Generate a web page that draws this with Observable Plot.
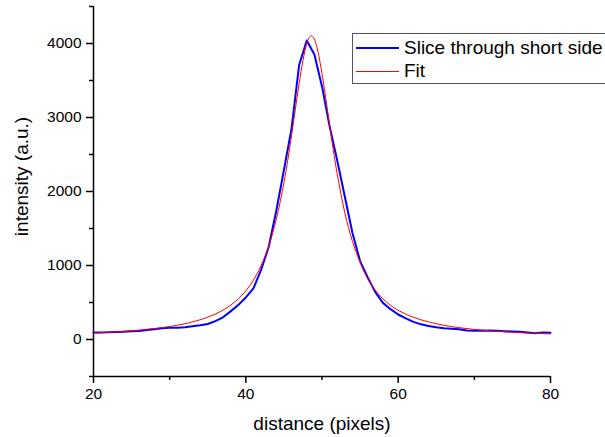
<!DOCTYPE html>
<html>
<head>
<meta charset="utf-8">
<script src="https://cdn.jsdelivr.net/npm/d3@7"></script>
<script src="https://cdn.jsdelivr.net/npm/@observablehq/plot@0.6"></script>
<style>
  html, body { margin: 0; padding: 0; background: #fff; }
  #wrap { position: relative; width: 605px; height: 437px; overflow: hidden; font-family: "Liberation Sans", Arial, sans-serif; }
  #legend { position: absolute; left: 352px; top: 33px; width: 270px; height: 49px; border: 1px solid #555; background: #fff; }
  .row { position: absolute; left: 0; height: 22px; display: flex; align-items: center; }
  .sample { width: 43px; margin-left: 3px; margin-right: 5px; }
  .lbl { font-size: 19px; line-height: 22px; color: #000; white-space: nowrap; }
</style>
</head>
<body>
<div id="wrap"></div>
<script>
// ---- data ----
const sliceX = [20,21,22,23,24,25,26,27,28,29,30,31,32,33,34,35,36,37,38,39,40,41,42,43,44,45,46,47,48,49,50,51,52,53,54,55,56,57,58,59,60,61,62,63,64,65,66,67,68,69,70,71,72,73,74,75,76,77,78,79,80];
const sliceY = [95,96,98,101,105,110,116,128,140,152,158,160,166,178,192,210,248,300,380,465,568,690,940,1250,1740,2290,2850,3710,4040,3850,3420,2880,2420,1930,1440,1060,840,640,495,410,338,285,238,205,182,165,152,145,140,122,118,118,120,118,112,108,104,96,84,95,92];

const fitX = [20,22,24,26,28,30,32,34,35,36,37,38,39,40,41,42,43,44,45,45.5,46,46.5,47,47.5,48,48.3,48.6,48.9,49.2,49.5,50,50.5,51,51.5,52,53,54,55,56,57,58,59,60,62,64,66,68,70,72,74,76,78,80];
const fitY = [87,98,110,127,148,175,213,267,302,344,397,464,548,658,803,997,1261,1625,2118,2420,2755,3110,3461,3773,4000,4078,4105,4078,4000,3877,3593,3253,2895,2550,2235,1712,1325,1043,820,665,550,462,395,300,238,192,160,136,118,104,92,84,76];

const xMajor = [20,40,60,80];
const xMinor = [30,50,70];
const yMajor = [0,1000,2000,3000,4000];
const yMinor = [-500,500,1500,2500,3500,4500];

const seriesNames = ["Slice through short side", "Fit"];
const seriesColors = ["#0000ff", "#ff0000"];
const seriesWidths = [2, 1];
const xTitle = "distance (pixels)";
const yTitle = "intensity (a.u.)";

// ---- tables ----
const slice = sliceX.map((x, i) => ({x, y: sliceY[i]}));
const fit = fitX.map((x, i) => ({x, y: fitY[i]}));

const chart = Plot.plot({
  width: 605,
  height: 437,
  marginLeft: 93,
  marginRight: 55,
  marginTop: 6,
  marginBottom: 61,
  x: {domain: [20, 80]},
  y: {domain: [-500, 4500]},
  style: {fontFamily: "'Liberation Sans', Arial, sans-serif", fontSize: "15.5px", color: "#000", background: "#fff"},
  marks: [
    Plot.axisX({ticks: xMajor, tickSize: 7, tickPadding: 4, label: null, strokeWidth: 1.5, stroke: "#000", fontSize: 15.5}),
    Plot.axisX({ticks: xMinor, tickSize: 4, text: null, label: null, strokeWidth: 1.5, stroke: "#000"}),
    Plot.axisY({ticks: yMajor, tickSize: 7, tickPadding: 5, label: null, strokeWidth: 1.5, stroke: "#000", fontSize: 15.5, tickFormat: d => String(d)}),
    Plot.axisY({ticks: yMinor, tickSize: 4, text: null, label: null, strokeWidth: 1.5, stroke: "#000"}),
    Plot.ruleX([20], {stroke: "#000", strokeWidth: 1.5}),
    Plot.ruleY([-500], {stroke: "#000", strokeWidth: 1.5}),
    Plot.line(slice, {x: "x", y: "y", stroke: seriesColors[0], strokeWidth: seriesWidths[0]}),
    Plot.line(fit, {x: "x", y: "y", stroke: seriesColors[1], strokeWidth: seriesWidths[1], curve: "catmull-rom"}),
    Plot.text([yTitle], {text: d => d, frameAnchor: "left", rotate: -90, dx: -72, dy: -15, fontSize: 19, fill: "#000", textAnchor: "middle", lineAnchor: "middle"}),
    Plot.text([xTitle], {text: d => d, frameAnchor: "bottom", dy: 47, fontSize: 19, fill: "#000", textAnchor: "middle", lineAnchor: "middle"})
  ]
});

const wrap = document.getElementById("wrap");
wrap.appendChild(chart);

// legend
const legend = document.createElement("div");
legend.id = "legend";
seriesNames.forEach((name, i) => {
  const row = document.createElement("div");
  row.className = "row";
  row.style.top = (i === 0 ? 3 : 26) + "px";
  const s = document.createElement("div");
  s.className = "sample";
  s.style.borderTop = seriesWidths[i] + "px solid " + seriesColors[i];
  const t = document.createElement("span");
  t.className = "lbl";
  t.textContent = name;
  row.appendChild(s);
  row.appendChild(t);
  legend.appendChild(row);
});
wrap.appendChild(legend);
</script>
</body>
</html>
